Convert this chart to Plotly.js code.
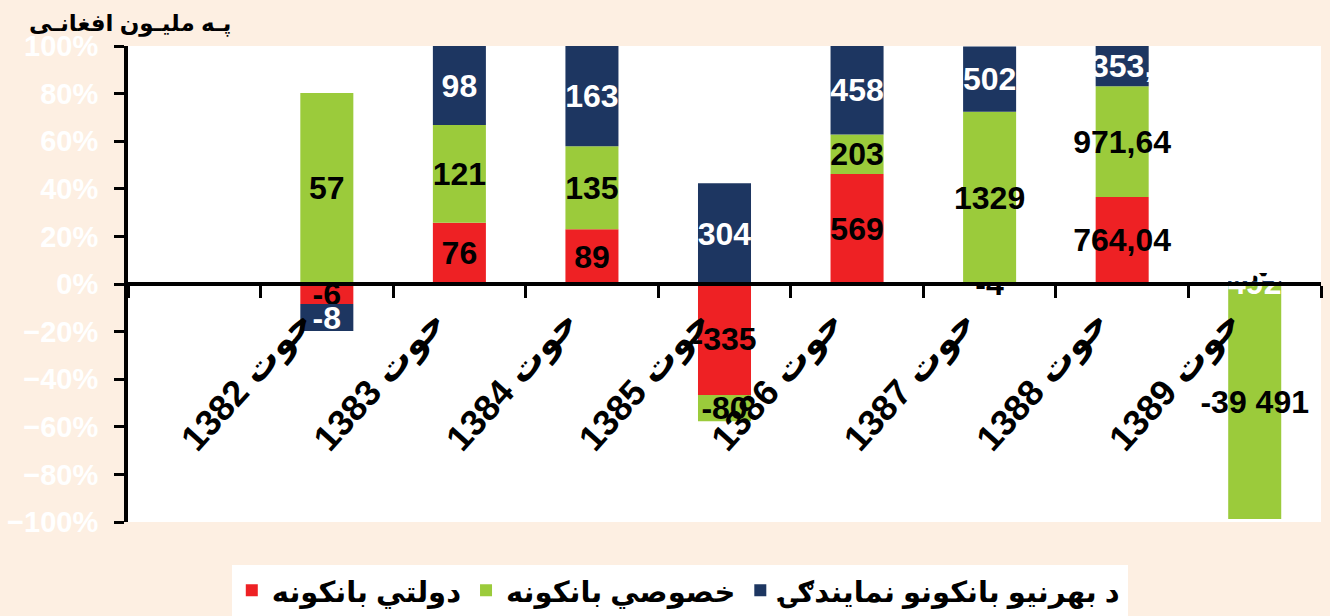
<!DOCTYPE html>
<html>
<head>
<meta charset="utf-8">
<script src="https://cdn.plot.ly/plotly-3.0.1.min.js"></script>
<style>html,body{margin:0;padding:0;background:#FDEFE2;}#chart{width:1330px;height:616px;}</style>
</head>
<body>
<div id="chart"></div>
<script>
// Categories (first slot is an empty category, as in the reference)
const categories = [' ', 'حوت 1382', 'حوت 1383', 'حوت 1384', 'حوت 1385', 'حوت 1386', 'حوت 1387', 'حوت 1388', 'حوت 1389'];
const years = ['حوت 1382', 'حوت 1383', 'حوت 1384', 'حوت 1385', 'حوت 1386', 'حوت 1387', 'حوت 1388', 'حوت 1389'];

// Series values (million Afghani)
const stateBanks   = [-6, 76, 89, -335, 569, -4, 764.04, -5];
const privateBanks = [57, 121, 135, -80, 203, 1329, 971.64, -39491];
const foreignBanks = [-8, 98, 163, 304, 458, 502, 353, 492];

// Data label texts
const stateLabels   = ['-6', '76', '89', '-335', '569', '-4', '764,04', '-5'];
const privateLabels = ['57', '121', '135', '-80', '203', '1329', '971,64', '-39 491'];
const foreignLabels = ['-8', '98', '163', '304', '458', '502', '353,', '492'];

const seriesNames = ['دولتي بانکونه', 'خصوصي بانکونه', 'د بهرنيو بانکونو نمايندګۍ'];
const yTitle = 'پـه مليـون افغانـی';

// 100% stacked: share of the sum of absolute values per category
const totals = years.map((_, i) => Math.abs(stateBanks[i]) + Math.abs(privateBanks[i]) + Math.abs(foreignBanks[i]));
const pct = arr => arr.map((v, i) => v / totals[i] * 100);

const FONT = 'Liberation Sans, Arial, DejaVu Sans, sans-serif';
const labelFont = (c) => ({family: FONT, size: 32, color: c, weight: 'bold'});

function barTrace(vals, labels, name, color, txtColor) {
  return {
    type: 'bar', x: years, y: pct(vals), name: name,
    marker: {color: color, line: {width: 0}},
    text: labels, textposition: 'inside', insidetextanchor: 'middle',
    constraintext: 'none', textangle: 0, textfont: labelFont(txtColor),
    hoverinfo: 'skip', cliponaxis: false
  };
}

const data = [
  barTrace(stateBanks, stateLabels, seriesNames[0], '#EE2124', '#000000'),
  barTrace(privateBanks, privateLabels, seriesNames[1], '#9BCB3B', '#000000'),
  barTrace(foreignBanks, foreignLabels, seriesNames[2], '#1D3661', '#FFFFFF')
];

const layout = {
  width: 1330, height: 616,
  paper_bgcolor: '#FDEFE2', plot_bgcolor: '#FFFFFF',
  margin: {l: 128, r: 9, t: 46, b: 94, autoexpand: false},
  barmode: 'relative', bargap: 0.6,
  showlegend: true,
  legend: {
    orientation: 'h', x: 0.087, xanchor: 'left', y: -0.09, yanchor: 'top',
    bgcolor: '#FFFFFF', font: {family: FONT, size: 29, color: '#000', weight: 'bold'},
    traceorder: 'normal', itemclick: false, itemwidth: 30
  },
  xaxis: {
    type: 'category', categoryorder: 'array', categoryarray: categories,
    range: [-0.5, 8.5], anchor: 'free', position: 0.5,
    showline: true, linecolor: '#000', linewidth: 4,
    ticks: 'outside', tickson: 'boundaries', ticklen: 12, tickwidth: 3, tickcolor: '#000',
    tickangle: -48, ticklabelshift: -26,
    tickfont: {family: FONT, size: 36, color: '#000', weight: 'bold'},
    showgrid: false, zeroline: false, fixedrange: true
  },
  yaxis: {
    range: [-100, 100], tickmode: 'linear', tick0: 0, dtick: 20, ticksuffix: '%',
    showline: true, linecolor: '#000', linewidth: 4, mirror: false,
    ticks: 'outside', ticklen: 10, tickwidth: 3, tickcolor: '#000',
    ticklabelstandoff: 10,
    tickfont: {family: FONT, size: 29, color: '#FFFFFF', weight: 'bold'},
    showgrid: false, zeroline: false, fixedrange: true
  },
  annotations: [{
    text: yTitle, xref: 'paper', yref: 'paper', x: 0.089, y: 1.08,
    xanchor: 'right', yanchor: 'top', showarrow: false,
    font: {family: FONT, size: 23, color: '#000', weight: 'bold'}
  }]
};

Plotly.newPlot('chart', data, layout, {displayModeBar: false, staticPlot: true});
</script>
</body>
</html>
